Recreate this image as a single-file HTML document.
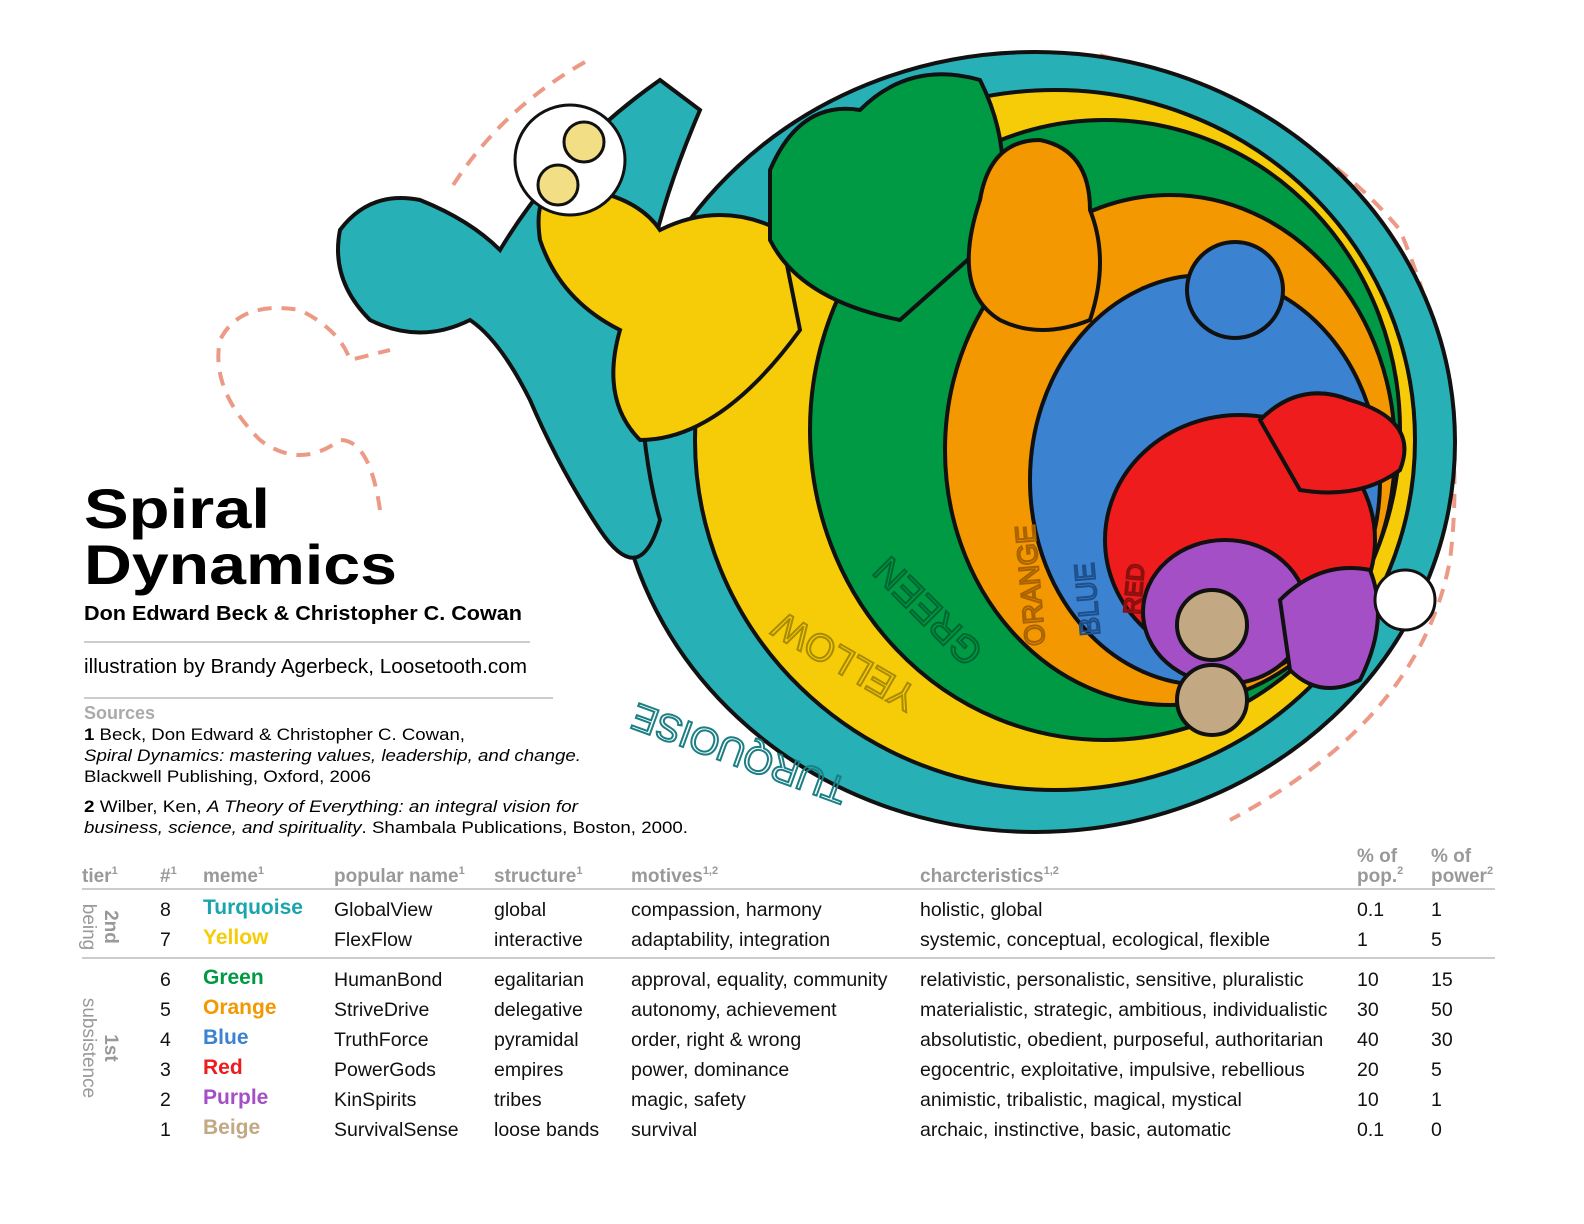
<!DOCTYPE html>
<html><head><meta charset="utf-8"><style>
html,body{margin:0;padding:0;background:#fff}
svg{display:block;font-family:"Liberation Sans",sans-serif}
</style></head><body>
<svg id="s" width="1584" height="1224" viewBox="0 0 1584 1224">
<g stroke="#111" stroke-width="4">
 <path d="M585,62 Q500,110 450,190 M1100,55 Q1300,110 1400,230 Q1470,400 1450,560 Q1420,720 1230,820 M380,510 Q370,440 340,440 Q300,470 260,440 Q210,390 220,340 Q240,300 300,310 Q340,330 350,360 L390,350" fill="none" stroke="#ec9a86" stroke-width="4" stroke-dasharray="14,10"/>
 <ellipse cx="1035" cy="442" rx="420" ry="390" fill="#27b0b5"/>
 <path d="M600,530 Q560,470 530,400 Q500,340 470,320 Q420,345 370,320 Q330,280 340,230 Q370,190 420,200 Q470,220 500,250 Q560,150 660,80 L700,110 Q640,250 640,350 Q640,450 660,520 Q640,590 600,530 Z" fill="#27b0b5"/>
 <ellipse cx="1055" cy="440" rx="360" ry="350" fill="#f5cc07"/>
 <path d="M540,240 Q530,170 590,190 Q640,200 660,230 Q720,200 780,230 L800,330 Q720,440 640,440 Q600,400 620,330 Q560,300 540,240 Z" fill="#f5cc07"/>
 <ellipse cx="1105" cy="430" rx="295" ry="310" fill="#009944"/>
 <path d="M770,170 Q800,100 860,110 Q910,60 980,80 Q1020,160 990,240 L900,320 Q800,300 770,240 Z" fill="#009944"/>
 <ellipse cx="1170" cy="450" rx="225" ry="255" fill="#f39800"/>
 <path d="M980,200 Q990,140 1040,140 Q1090,150 1090,210 Q1110,260 1090,320 Q1040,340 1000,320 Q950,290 980,200 Z" fill="#f39800"/>
 <ellipse cx="1205" cy="480" rx="175" ry="205" fill="#3b82d0"/>
 <circle cx="1235" cy="290" r="48" fill="#3b82d0"/>
 <ellipse cx="1240" cy="540" rx="135" ry="125" fill="#ee1c1c"/>
 <path d="M1260,420 Q1300,380 1350,400 Q1420,420 1400,470 Q1360,500 1300,490 Z" fill="#ee1c1c"/>
 <ellipse cx="1225" cy="612" rx="82" ry="72" fill="#a54fc7"/>
 <path d="M1280,600 Q1320,560 1370,570 Q1390,620 1360,680 Q1320,700 1290,670 Z" fill="#a54fc7"/>
 <circle cx="1212" cy="625" r="35" fill="#c2a883"/>
 <circle cx="1212" cy="700" r="35" fill="#c2a883"/>
 <circle cx="570" cy="160" r="55" fill="#fff" stroke-width="3"/>
 <circle cx="558" cy="185" r="20" fill="#f2de85" stroke-width="3"/>
 <circle cx="584" cy="142" r="20" fill="#f2de85" stroke-width="3"/>
 <circle cx="1405" cy="600" r="30" fill="#fff" stroke-width="3"/>
</g>
<g font-size="38" fill="none" stroke-width="2">
 <text transform="translate(850,780) rotate(200)" stroke="#1b7f84">TURQUOISE</text>
 <text transform="translate(920,690) rotate(210)" stroke="#a88a05">YELLOW</text>
 <text transform="translate(985,650) rotate(225)" stroke="#006630">GREEN</text>
 <text font-size="28" transform="translate(1045,645) rotate(265)" stroke="#a86200">ORANGE</text>
 <text font-size="28" transform="translate(1100,635) rotate(265)" stroke="#1f4f8a">BLUE</text>
 <text font-size="24" transform="translate(1140,615) rotate(275)" stroke="#8a1010">RED</text>
</g>
<g>
 <text x="84" y="528" font-size="56" font-weight="bold" textLength="186" lengthAdjust="spacingAndGlyphs">Spiral</text>
 <text x="84" y="584" font-size="56" font-weight="bold" textLength="313" lengthAdjust="spacingAndGlyphs">Dynamics</text>
 <text x="84" y="620" font-size="20" font-weight="bold" textLength="438" lengthAdjust="spacingAndGlyphs">Don Edward Beck &amp; Christopher C. Cowan</text>
 <line x1="84" y1="642" x2="530" y2="642" stroke="#bbb" stroke-width="1.5"/>
 <text x="84" y="673" font-size="20" textLength="443" lengthAdjust="spacingAndGlyphs">illustration by Brandy Agerbeck, Loosetooth.com</text>
 <line x1="84" y1="698" x2="553" y2="698" stroke="#bbb" stroke-width="1.5"/>
 <text x="84" y="719" font-size="18" font-weight="bold" fill="#aaa">Sources</text>
 <text x="84" y="740" font-size="17" textLength="381" lengthAdjust="spacingAndGlyphs"><tspan font-weight="bold">1</tspan> Beck, Don Edward &amp; Christopher C. Cowan,</text>
 <text x="84" y="761" font-size="17" font-style="italic" textLength="497" lengthAdjust="spacingAndGlyphs">Spiral Dynamics: mastering values, leadership, and change.</text>
 <text x="84" y="782" font-size="17" textLength="287" lengthAdjust="spacingAndGlyphs">Blackwell Publishing, Oxford, 2006</text>
 <text x="84" y="812" font-size="17" textLength="494" lengthAdjust="spacingAndGlyphs"><tspan font-weight="bold">2</tspan>  Wilber, Ken, <tspan font-style="italic">A Theory of Everything: an integral vision for</tspan></text>
 <text x="84" y="833" font-size="17" textLength="604" lengthAdjust="spacingAndGlyphs"><tspan font-style="italic">business, science, and spirituality</tspan>. Shambala Publications, Boston, 2000.</text>
</g>
<g id="tbl"></g>
</svg>
<script>
const NS="http://www.w3.org/2000/svg";
const numbers=["8","7","6","5","4","3","2","1"];
const memes=["Turquoise","Yellow","Green","Orange","Blue","Red","Purple","Beige"];
const memeColors=["#1aa5aa","#f5cc07","#009944","#f39800","#3b82d0","#ee1c1c","#a54fc7","#c2a883"];
const popularNames=["GlobalView","FlexFlow","HumanBond","StriveDrive","TruthForce","PowerGods","KinSpirits","SurvivalSense"];
const structures=["global","interactive","egalitarian","delegative","pyramidal","empires","tribes","loose bands"];
const motives=["compassion, harmony","adaptability, integration","approval, equality, community","autonomy, achievement","order, right & wrong","power, dominance","magic, safety","survival"];
const characteristics=["holistic, global","systemic, conceptual, ecological, flexible","relativistic, personalistic, sensitive, pluralistic","materialistic, strategic, ambitious, individualistic","absolutistic, obedient, purposeful, authoritarian","egocentric, exploitative, impulsive, rebellious","animistic, tribalistic, magical, mystical","archaic, instinctive, basic, automatic"];
const pctPop=["0.1","1","10","30","40","20","10","0.1"];
const pctPower=["1","5","15","50","30","5","1","0"];
const headers=["tier","#","meme","popular name","structure","motives","charcteristics"];
const headerSups=["1","1","1","1","1","1,2","1,2"];
const g=document.getElementById('tbl');
const colX=[82,160,203,334,494,631,920,1357,1431];
const SX=1.0;
function t(x,y,str,size,opts){
  const e=document.createElementNS(NS,'text');
  e.setAttribute('transform',`translate(${x},${y}) scale(${SX},1)`);
  e.setAttribute('font-size',size);
  if(opts.fill)e.setAttribute('fill',opts.fill);
  if(opts.bold)e.setAttribute('font-weight','bold');
  e.textContent=str;
  g.appendChild(e);return e;
}
headers.forEach((h,i)=>{
  const e=t(colX[i],882,h,19,{fill:'#999',bold:true});
  
  
  const s=document.createElementNS(NS,'tspan');s.setAttribute('font-size','11');s.setAttribute('dy','-8');s.textContent=headerSups[i];e.appendChild(s);
});
[[colX[7],"pop."],[colX[8],"power"]].forEach(([x,w])=>{
  const a=t(x,862,"% of",19,{fill:'#999',bold:true});
  
  
  const b=t(x,882,w,19,{fill:'#999',bold:true});
  
  
  const s=document.createElementNS(NS,'tspan');s.setAttribute('font-size','11');s.setAttribute('dy','-8');s.textContent="2";b.appendChild(s);
});
function line(y,name){const l=document.createElementNS(NS,'line');l.setAttribute('x1',82);l.setAttribute('x2',1495);l.setAttribute('y1',y);l.setAttribute('y2',y);l.setAttribute('stroke','#bbb');l.setAttribute('stroke-width','1.5');


g.appendChild(l);}
line(889,'header-rule');line(958,'tier-rule');
const rowY=[916,946,986,1016,1046,1076,1106,1136];
numbers.forEach((n,i)=>{
  const y=rowY[i];
  const cells=[[colX[1],n],[colX[3],popularNames[i]],[colX[4],structures[i]],[colX[5],motives[i]],[colX[6],characteristics[i]],[colX[7],pctPop[i]],[colX[8],pctPower[i]]];
  cells.forEach(([x,v],j)=>{const e=t(x,y,v,19.5,{fill:'#111'});
    
    });
  const m=t(colX[2],y-2,memes[i],21,{fill:memeColors[i],bold:true});
  
  
});
function tier(cx,cy,a,b,name){
  [[a,cx+10,'bold'],[b,cx-12,'normal']].forEach(([s,x,w])=>{
    const e=document.createElementNS(NS,'text');
    e.setAttribute('transform',`translate(${x},${cy}) rotate(90)`);
    e.setAttribute('text-anchor','middle');e.setAttribute('font-size','19');e.setAttribute('fill','#999');e.setAttribute('font-weight',w);
    e.textContent=s;
    
    
    g.appendChild(e);
  });
}
tier(95,927,"2nd","being",'tier-2nd-being');
tier(95,1048,"1st","subsistence",'tier-1st-subsistence');
</script>
</body></html>
